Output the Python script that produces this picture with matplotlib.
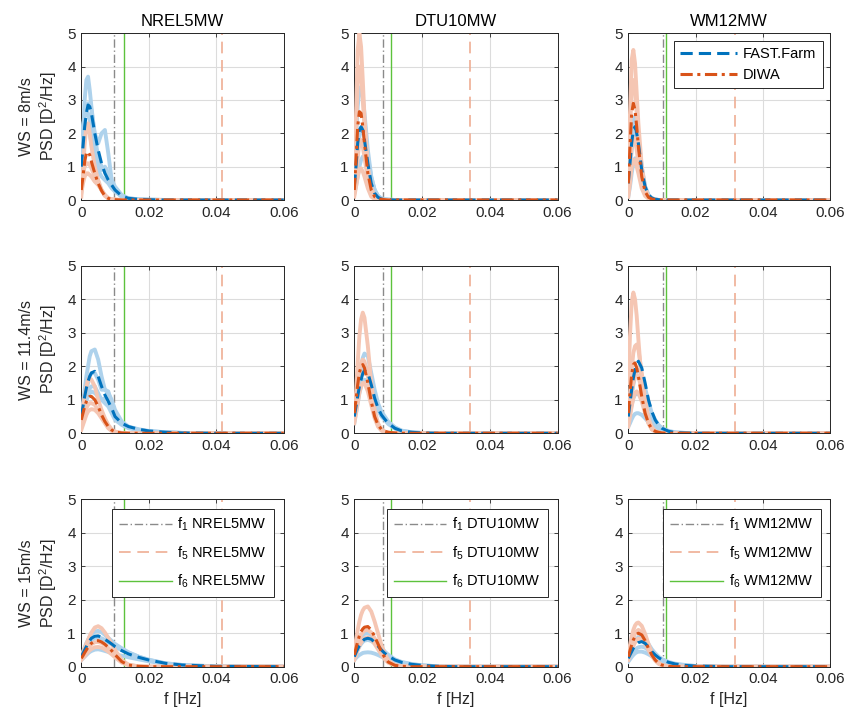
import matplotlib
matplotlib.use("Agg")
import matplotlib.pyplot as plt
from matplotlib.lines import Line2D

plt.rcParams['font.family'] = ['Liberation Sans', 'DejaVu Sans']
plt.rcParams['font.size'] = 10
plt.rcParams['mathtext.fontset'] = 'custom'
plt.rcParams['mathtext.rm'] = 'Liberation Sans'
plt.rcParams['mathtext.it'] = 'Liberation Sans:italic'

# ---------------- data ----------------
turbines = ['NREL5MW', 'DTU10MW', 'WM12MW']
wind_speeds = ['8m/s', '11.4m/s', '15m/s']
xticks = [0, 0.02, 0.04, 0.06]
xticklabels = ['0', '0.02', '0.04', '0.06']
yticks = [0, 1, 2, 3, 4, 5]

f1_vals = [0.0096, 0.0086, 0.0102]
f5_vals = [0.0416, 0.0341, 0.0318]
f6_vals = [0.0126, 0.0107, 0.0113]

freq = [0, 0.0005, 0.001, 0.0015, 0.002, 0.0025, 0.003, 0.004, 0.005, 0.006, 0.007,
        0.008, 0.009, 0.010, 0.012, 0.014, 0.017, 0.020, 0.025, 0.030, 0.040, 0.060]

# ---- WS = 8 m/s ----
nrel_8_ff_mean = [1.0, 1.6, 2.2, 2.6, 2.85, 2.8, 2.6, 2.0, 1.5, 1.1, 0.8, 0.6, 0.45, 0.3, 0.12, 0.05, 0.02, 0.01, 0, 0, 0, 0]
nrel_8_ff_runs = [
    [0.8, 1.8, 3.0, 3.6, 3.7, 3.3, 2.8, 1.9, 1.3, 1.0, 0.9, 0.7, 0.5, 0.3, 0.1, 0.04, 0.02, 0.01, 0, 0, 0, 0],
    [1.6, 2.2, 2.6, 2.8, 2.9, 2.9, 2.7, 2.0, 1.7, 2.0, 2.1, 1.4, 0.6, 0.3, 0.1, 0.05, 0.02, 0.01, 0, 0, 0, 0],
    [1.9, 2.2, 2.5, 2.6, 2.6, 2.4, 2.1, 1.5, 1.0, 0.9, 1.0, 0.8, 0.6, 0.4, 0.15, 0.05, 0.02, 0.01, 0, 0, 0, 0],
    [0.5, 1.2, 1.9, 2.2, 2.2, 2.0, 1.7, 1.2, 0.9, 0.7, 0.6, 0.5, 0.35, 0.25, 0.1, 0.04, 0.01, 0, 0, 0, 0, 0],
]
nrel_8_diwa_mean = [0.3, 0.7, 1.15, 1.4, 1.45, 1.35, 1.15, 0.8, 0.5, 0.28, 0.12, 0.05, 0.02, 0.01, 0, 0, 0, 0, 0, 0, 0, 0]
nrel_8_diwa_runs = [
    [0.1, 0.8, 1.7, 2.2, 2.3, 2.0, 1.6, 1.0, 0.6, 0.3, 0.12, 0.05, 0.02, 0.01, 0, 0, 0, 0, 0, 0, 0, 0],
    [0.5, 0.8, 1.0, 1.1, 1.1, 1.05, 0.95, 0.7, 0.5, 0.3, 0.15, 0.05, 0.02, 0.01, 0, 0, 0, 0, 0, 0, 0, 0],
    [0.2, 0.5, 0.7, 0.8, 0.8, 0.75, 0.7, 0.55, 0.45, 0.3, 0.15, 0.05, 0.02, 0.01, 0, 0, 0, 0, 0, 0, 0, 0],
]

dtu_8_ff_mean = [0.4, 1.0, 1.7, 2.1, 2.2, 2.1, 1.8, 1.1, 0.5, 0.2, 0.08, 0.03, 0.01, 0.01, 0, 0, 0, 0, 0, 0, 0, 0]
dtu_8_ff_runs = [
    [0.8, 1.8, 2.8, 3.3, 3.4, 3.1, 2.6, 1.5, 0.7, 0.3, 0.1, 0.04, 0.02, 0.01, 0, 0, 0, 0, 0, 0, 0, 0],
    [0.3, 0.8, 1.4, 1.9, 2.1, 2.1, 1.9, 1.3, 0.7, 0.3, 0.12, 0.05, 0.02, 0.01, 0, 0, 0, 0, 0, 0, 0, 0],
    [0.2, 0.4, 0.7, 1.0, 1.2, 1.3, 1.3, 1.0, 0.6, 0.3, 0.12, 0.05, 0.02, 0.01, 0, 0, 0, 0, 0, 0, 0, 0],
]
dtu_8_diwa_mean = [0.3, 1.2, 2.2, 2.65, 2.6, 2.2, 1.7, 0.8, 0.3, 0.1, 0.04, 0.02, 0.01, 0, 0, 0, 0, 0, 0, 0, 0, 0]
dtu_8_diwa_runs = [
    [0.5, 2.5, 4.5, 5.0, 4.6, 3.6, 2.5, 1.0, 0.35, 0.1, 0.04, 0.02, 0, 0, 0, 0, 0, 0, 0, 0, 0, 0],
    [0.5, 2.0, 3.5, 4.0, 3.8, 3.0, 2.2, 0.9, 0.3, 0.1, 0.04, 0.02, 0, 0, 0, 0, 0, 0, 0, 0, 0, 0],
    [0.2, 0.7, 1.3, 1.7, 1.8, 1.6, 1.3, 0.6, 0.2, 0.06, 0.02, 0.01, 0, 0, 0, 0, 0, 0, 0, 0, 0, 0],
    [0.1, 0.4, 0.7, 0.9, 0.95, 0.85, 0.7, 0.35, 0.1, 0.03, 0.01, 0, 0, 0, 0, 0, 0, 0, 0, 0, 0, 0],
]

wm_8_ff_mean = [0.5, 1.1, 1.7, 2.1, 2.2, 2.0, 1.7, 0.9, 0.4, 0.15, 0.06, 0.02, 0.01, 0, 0, 0, 0, 0, 0, 0, 0, 0]
wm_8_ff_runs = [
    [0.6, 1.3, 2.0, 2.4, 2.5, 2.3, 1.9, 1.0, 0.4, 0.15, 0.05, 0.02, 0, 0, 0, 0, 0, 0, 0, 0, 0, 0],
    [0.3, 0.9, 1.5, 1.9, 2.0, 1.9, 1.6, 0.9, 0.4, 0.15, 0.05, 0.02, 0, 0, 0, 0, 0, 0, 0, 0, 0, 0],
    [0.1, 0.4, 0.8, 1.1, 1.25, 1.2, 1.0, 0.6, 0.3, 0.12, 0.05, 0.02, 0, 0, 0, 0, 0, 0, 0, 0, 0, 0],
]
wm_8_diwa_mean = [0.5, 1.6, 2.6, 2.9, 2.7, 2.2, 1.6, 0.7, 0.25, 0.08, 0.03, 0.01, 0, 0, 0, 0, 0, 0, 0, 0, 0, 0]
wm_8_diwa_runs = [
    [0.8, 2.6, 4.2, 4.5, 4.1, 3.2, 2.3, 1.0, 0.35, 0.1, 0.03, 0.01, 0, 0, 0, 0, 0, 0, 0, 0, 0, 0],
    [0.6, 2.0, 3.3, 3.6, 3.3, 2.6, 1.8, 0.8, 0.3, 0.1, 0.03, 0.01, 0, 0, 0, 0, 0, 0, 0, 0, 0, 0],
    [0.3, 1.0, 1.6, 1.9, 1.8, 1.5, 1.1, 0.5, 0.2, 0.06, 0.02, 0, 0, 0, 0, 0, 0, 0, 0, 0, 0, 0],
    [0.1, 0.5, 1.0, 1.2, 1.2, 1.0, 0.8, 0.35, 0.12, 0.04, 0.01, 0, 0, 0, 0, 0, 0, 0, 0, 0, 0, 0],
]

# ---- WS = 11.4 m/s ----
nrel_11_ff_mean = [0.5, 0.8, 1.1, 1.35, 1.55, 1.7, 1.8, 1.85, 1.7, 1.4, 1.15, 0.95, 0.75, 0.5, 0.3, 0.2, 0.12, 0.07, 0.03, 0.01, 0, 0]
nrel_11_ff_runs = [
    [0.6, 0.9, 1.3, 1.7, 2.0, 2.3, 2.45, 2.5, 2.2, 1.7, 1.3, 1.2, 1.0, 0.7, 0.35, 0.2, 0.12, 0.07, 0.03, 0.01, 0, 0],
    [0.3, 0.6, 1.0, 1.3, 1.5, 1.7, 1.8, 1.8, 1.6, 1.3, 1.3, 1.25, 0.9, 0.6, 0.3, 0.18, 0.1, 0.06, 0.03, 0.01, 0, 0],
    [0.2, 0.4, 0.7, 1.0, 1.2, 1.35, 1.4, 1.4, 1.2, 1.0, 0.9, 0.8, 0.6, 0.4, 0.25, 0.15, 0.1, 0.05, 0.02, 0.01, 0, 0],
    [0.4, 0.6, 0.8, 1.0, 1.1, 1.2, 1.25, 1.2, 1.1, 1.0, 1.05, 1.0, 0.8, 0.5, 0.28, 0.17, 0.1, 0.06, 0.03, 0.01, 0, 0],
]
nrel_11_diwa_mean = [0.4, 0.6, 0.8, 0.95, 1.05, 1.1, 1.1, 1.0, 0.8, 0.55, 0.35, 0.2, 0.1, 0.04, 0.01, 0, 0, 0, 0, 0, 0, 0]
nrel_11_diwa_runs = [
    [0.5, 0.8, 1.1, 1.4, 1.6, 1.65, 1.6, 1.4, 1.0, 0.7, 0.45, 0.25, 0.12, 0.05, 0.01, 0, 0, 0, 0, 0, 0, 0],
    [0.2, 0.4, 0.6, 0.75, 0.85, 0.9, 0.9, 0.85, 0.7, 0.5, 0.32, 0.18, 0.08, 0.03, 0.01, 0, 0, 0, 0, 0, 0, 0],
    [0.1, 0.25, 0.4, 0.55, 0.65, 0.7, 0.72, 0.7, 0.6, 0.45, 0.3, 0.15, 0.07, 0.03, 0, 0, 0, 0, 0, 0, 0, 0],
]

dtu_11_ff_mean = [0.5, 0.8, 1.1, 1.4, 1.6, 1.78, 1.87, 1.8, 1.45, 1.05, 0.75, 0.55, 0.42, 0.3, 0.15, 0.07, 0.03, 0.01, 0, 0, 0, 0]
dtu_11_ff_runs = [
    [0.5, 0.9, 1.3, 1.7, 2.0, 2.25, 2.38, 2.3, 1.8, 1.3, 0.9, 0.65, 0.5, 0.35, 0.18, 0.08, 0.03, 0.01, 0, 0, 0, 0],
    [0.4, 0.8, 1.2, 1.5, 1.75, 1.9, 2.0, 1.95, 1.6, 1.15, 0.8, 0.6, 0.45, 0.32, 0.16, 0.07, 0.03, 0.01, 0, 0, 0, 0],
    [0.3, 0.6, 0.9, 1.2, 1.4, 1.55, 1.6, 1.55, 1.25, 0.95, 0.7, 0.5, 0.4, 0.28, 0.14, 0.06, 0.02, 0.01, 0, 0, 0, 0],
]
dtu_11_diwa_mean = [0.6, 1.0, 1.45, 1.8, 2.0, 2.05, 1.95, 1.5, 0.95, 0.5, 0.25, 0.12, 0.06, 0.03, 0.01, 0, 0, 0, 0, 0, 0, 0]
dtu_11_diwa_runs = [
    [0.5, 1.2, 2.1, 2.9, 3.4, 3.6, 3.45, 2.6, 1.5, 0.7, 0.3, 0.12, 0.05, 0.02, 0, 0, 0, 0, 0, 0, 0, 0],
    [0.5, 0.9, 1.4, 1.8, 2.1, 2.2, 2.15, 1.7, 1.1, 0.55, 0.25, 0.1, 0.05, 0.02, 0, 0, 0, 0, 0, 0, 0, 0],
    [0.3, 0.6, 0.9, 1.2, 1.4, 1.5, 1.5, 1.25, 0.85, 0.45, 0.2, 0.08, 0.03, 0.01, 0, 0, 0, 0, 0, 0, 0, 0],
]

wm_11_ff_mean = [0.5, 0.9, 1.3, 1.65, 1.9, 2.08, 2.15, 1.95, 1.5, 1.0, 0.65, 0.4, 0.25, 0.15, 0.06, 0.02, 0.01, 0, 0, 0, 0, 0]
wm_11_ff_runs = [
    [0.4, 0.8, 1.15, 1.45, 1.7, 1.85, 1.9, 1.75, 1.35, 0.95, 0.6, 0.4, 0.25, 0.16, 0.07, 0.03, 0.01, 0, 0, 0, 0, 0],
    [0.3, 0.6, 0.85, 1.05, 1.15, 1.2, 1.18, 1.05, 0.8, 0.55, 0.38, 0.25, 0.17, 0.12, 0.06, 0.02, 0.01, 0, 0, 0, 0, 0],
    [0.2, 0.3, 0.42, 0.52, 0.58, 0.6, 0.6, 0.55, 0.45, 0.33, 0.22, 0.15, 0.1, 0.07, 0.03, 0.01, 0, 0, 0, 0, 0, 0],
]
wm_11_diwa_mean = [0.6, 1.2, 1.75, 2.05, 2.1, 1.95, 1.7, 1.1, 0.6, 0.3, 0.13, 0.06, 0.03, 0.01, 0, 0, 0, 0, 0, 0, 0, 0]
wm_11_diwa_runs = [
    [1.5, 2.9, 3.9, 4.2, 4.0, 3.5, 2.8, 1.5, 0.7, 0.3, 0.12, 0.05, 0.02, 0, 0, 0, 0, 0, 0, 0, 0, 0],
    [0.5, 1.2, 1.9, 2.4, 2.6, 2.65, 2.5, 1.8, 1.0, 0.45, 0.18, 0.07, 0.03, 0, 0, 0, 0, 0, 0, 0, 0, 0],
    [0.4, 0.8, 1.2, 1.5, 1.7, 1.75, 1.7, 1.3, 0.8, 0.4, 0.15, 0.06, 0.02, 0, 0, 0, 0, 0, 0, 0, 0, 0],
    [0.2, 0.5, 0.8, 1.05, 1.2, 1.25, 1.2, 0.95, 0.6, 0.3, 0.12, 0.05, 0.02, 0, 0, 0, 0, 0, 0, 0, 0, 0],
]

# ---- WS = 15 m/s ----
nrel_15_ff_mean = [0.3, 0.4, 0.5, 0.6, 0.7, 0.78, 0.85, 0.91, 0.92, 0.88, 0.82, 0.75, 0.68, 0.6, 0.48, 0.38, 0.28, 0.2, 0.1, 0.05, 0.01, 0]
nrel_15_ff_runs = [
    [0.35, 0.45, 0.58, 0.7, 0.8, 0.9, 0.97, 1.05, 1.07, 1.03, 0.95, 0.86, 0.77, 0.68, 0.55, 0.43, 0.3, 0.21, 0.1, 0.05, 0.01, 0],
    [0.25, 0.35, 0.45, 0.55, 0.64, 0.72, 0.79, 0.86, 0.88, 0.85, 0.8, 0.73, 0.66, 0.58, 0.5, 0.42, 0.3, 0.2, 0.1, 0.05, 0.01, 0],
    [0.2, 0.25, 0.3, 0.35, 0.4, 0.44, 0.47, 0.51, 0.52, 0.5, 0.47, 0.44, 0.4, 0.36, 0.33, 0.28, 0.22, 0.16, 0.09, 0.04, 0.01, 0],
]
nrel_15_diwa_mean = [0.25, 0.33, 0.42, 0.5, 0.58, 0.65, 0.7, 0.77, 0.78, 0.74, 0.67, 0.58, 0.48, 0.36, 0.15, 0.05, 0.01, 0, 0, 0, 0, 0]
nrel_15_diwa_runs = [
    [0.3, 0.42, 0.55, 0.68, 0.8, 0.92, 1.02, 1.17, 1.21, 1.15, 1.02, 0.86, 0.68, 0.5, 0.2, 0.06, 0.01, 0, 0, 0, 0, 0],
    [0.25, 0.33, 0.41, 0.49, 0.56, 0.62, 0.67, 0.73, 0.74, 0.71, 0.65, 0.56, 0.46, 0.35, 0.15, 0.05, 0.01, 0, 0, 0, 0, 0],
    [0.2, 0.26, 0.32, 0.38, 0.44, 0.49, 0.53, 0.58, 0.59, 0.57, 0.52, 0.45, 0.37, 0.28, 0.12, 0.04, 0.01, 0, 0, 0, 0, 0],
]

dtu_15_ff_mean = [0.3, 0.42, 0.53, 0.63, 0.71, 0.77, 0.82, 0.85, 0.82, 0.73, 0.62, 0.5, 0.4, 0.32, 0.2, 0.13, 0.07, 0.04, 0.01, 0, 0, 0]
dtu_15_ff_runs = [
    [0.35, 0.5, 0.65, 0.77, 0.87, 0.94, 0.98, 1.0, 0.95, 0.83, 0.7, 0.57, 0.45, 0.36, 0.22, 0.14, 0.08, 0.04, 0.01, 0, 0, 0],
    [0.25, 0.38, 0.5, 0.6, 0.68, 0.74, 0.78, 0.8, 0.77, 0.7, 0.6, 0.5, 0.4, 0.32, 0.2, 0.13, 0.07, 0.04, 0.01, 0, 0, 0],
    [0.2, 0.26, 0.31, 0.35, 0.38, 0.41, 0.42, 0.43, 0.42, 0.39, 0.35, 0.3, 0.26, 0.22, 0.15, 0.1, 0.06, 0.03, 0.01, 0, 0, 0],
]
dtu_15_diwa_mean = [0.35, 0.55, 0.75, 0.92, 1.05, 1.13, 1.18, 1.2, 1.1, 0.9, 0.68, 0.45, 0.27, 0.14, 0.04, 0.01, 0, 0, 0, 0, 0, 0]
dtu_15_diwa_runs = [
    [0.5, 0.8, 1.1, 1.35, 1.55, 1.68, 1.76, 1.8, 1.65, 1.35, 1.0, 0.65, 0.38, 0.2, 0.05, 0.01, 0, 0, 0, 0, 0, 0],
    [0.3, 0.5, 0.68, 0.82, 0.95, 1.03, 1.08, 1.1, 1.02, 0.85, 0.65, 0.45, 0.28, 0.15, 0.04, 0.01, 0, 0, 0, 0, 0, 0],
    [0.2, 0.35, 0.5, 0.62, 0.72, 0.8, 0.85, 0.88, 0.82, 0.68, 0.52, 0.36, 0.22, 0.12, 0.03, 0.01, 0, 0, 0, 0, 0, 0],
]

wm_15_ff_mean = [0.25, 0.35, 0.45, 0.55, 0.62, 0.68, 0.72, 0.75, 0.7, 0.58, 0.45, 0.35, 0.27, 0.21, 0.13, 0.08, 0.04, 0.02, 0.01, 0, 0, 0]
wm_15_ff_runs = [
    [0.35, 0.48, 0.6, 0.7, 0.78, 0.84, 0.88, 0.9, 0.83, 0.68, 0.52, 0.4, 0.3, 0.23, 0.14, 0.09, 0.05, 0.02, 0.01, 0, 0, 0],
    [0.2, 0.28, 0.36, 0.44, 0.5, 0.55, 0.58, 0.6, 0.57, 0.49, 0.4, 0.32, 0.25, 0.19, 0.12, 0.07, 0.04, 0.02, 0.01, 0, 0, 0],
    [0.15, 0.22, 0.29, 0.35, 0.4, 0.43, 0.45, 0.45, 0.42, 0.37, 0.31, 0.25, 0.2, 0.16, 0.1, 0.06, 0.03, 0.02, 0, 0, 0, 0],
]
wm_15_diwa_mean = [0.3, 0.48, 0.65, 0.8, 0.9, 0.97, 1.0, 0.95, 0.78, 0.55, 0.35, 0.2, 0.1, 0.05, 0.01, 0, 0, 0, 0, 0, 0, 0]
wm_15_diwa_runs = [
    [0.4, 0.65, 0.9, 1.1, 1.23, 1.3, 1.32, 1.22, 0.98, 0.68, 0.42, 0.24, 0.12, 0.05, 0.01, 0, 0, 0, 0, 0, 0, 0],
    [0.3, 0.5, 0.7, 0.86, 0.98, 1.06, 1.1, 1.03, 0.84, 0.6, 0.38, 0.21, 0.1, 0.04, 0.01, 0, 0, 0, 0, 0, 0, 0],
    [0.2, 0.35, 0.5, 0.62, 0.72, 0.8, 0.84, 0.82, 0.68, 0.5, 0.32, 0.18, 0.09, 0.04, 0.01, 0, 0, 0, 0, 0, 0, 0],
]

panels = [
    [(nrel_8_ff_mean, nrel_8_ff_runs, nrel_8_diwa_mean, nrel_8_diwa_runs),
     (dtu_8_ff_mean, dtu_8_ff_runs, dtu_8_diwa_mean, dtu_8_diwa_runs),
     (wm_8_ff_mean, wm_8_ff_runs, wm_8_diwa_mean, wm_8_diwa_runs)],
    [(nrel_11_ff_mean, nrel_11_ff_runs, nrel_11_diwa_mean, nrel_11_diwa_runs),
     (dtu_11_ff_mean, dtu_11_ff_runs, dtu_11_diwa_mean, dtu_11_diwa_runs),
     (wm_11_ff_mean, wm_11_ff_runs, wm_11_diwa_mean, wm_11_diwa_runs)],
    [(nrel_15_ff_mean, nrel_15_ff_runs, nrel_15_diwa_mean, nrel_15_diwa_runs),
     (dtu_15_ff_mean, dtu_15_ff_runs, dtu_15_diwa_mean, dtu_15_diwa_runs),
     (wm_15_ff_mean, wm_15_ff_runs, wm_15_diwa_mean, wm_15_diwa_runs)],
]

# ---------------- style ----------------
BLUE = '#0072BD'
ORANGE = '#D95319'
LIGHT_BLUE = '#aed2ec'
LIGHT_SALMON = '#f5c6b3'
GRAY = '#8a8a8a'
F5_COL = '#efae94'
GREEN = '#5cc23c'
AXC = '#262626'

fig = plt.figure(figsize=(8.47, 7.22), dpi=100)
W, H = 847, 722
col_x = [(81.3, 283.7), (354.3, 557.6), (628.3, 830.0)]
row_y = [(33.3, 200.0), (265.7, 433.3), (499.3, 666.7)]

for r in range(3):
    for c in range(3):
        x0, x1 = col_x[c]
        yt, yb = row_y[r]
        ax = fig.add_axes([x0 / W, 1 - yb / H, (x1 - x0) / W, (yb - yt) / H])
        ff_mean, ff_runs, diwa_mean, diwa_runs = panels[r][c]

        ax.axvline(f1_vals[c], color=GRAY, lw=1.0, dashes=(6, 2, 1, 2), zorder=2)
        ax.axvline(f5_vals[c], color=F5_COL, lw=1.2, dashes=(7, 4), zorder=2)
        ax.axvline(f6_vals[c], color=GREEN, lw=1.0, zorder=2)

        for run in ff_runs:
            ax.plot(freq, run, color=LIGHT_BLUE, lw=2.8, solid_joinstyle='round', zorder=3)
        for run in diwa_runs:
            ax.plot(freq, run, color=LIGHT_SALMON, lw=2.8, solid_joinstyle='round', zorder=3)
        h_ff, = ax.plot(freq, ff_mean, color=BLUE, lw=2.2, dashes=(4, 2), zorder=4)
        h_dw, = ax.plot(freq, diwa_mean, color=ORANGE, lw=2.2, dashes=(4, 1.5, 1, 1.5), zorder=5)

        ax.set_xlim(0, 0.06)
        ax.set_ylim(0, 5)
        ax.set_xticks(xticks)
        ax.set_xticklabels(xticklabels)
        ax.set_yticks(yticks)
        ax.grid(True, color='#dcdcdc', lw=0.8)
        ax.set_axisbelow(True)
        ax.tick_params(direction='in', top=True, right=True, length=3, width=0.6,
                       colors=AXC, labelsize=11, pad=4)
        for s in ax.spines.values():
            s.set_color(AXC)
            s.set_linewidth(0.7)

        if r == 0:
            ax.set_title(turbines[c], fontsize=12, color='black', pad=5)
        if c == 0:
            ax.set_ylabel('WS = ' + wind_speeds[r] + '\nPSD [D$^2$/Hz]', fontsize=11.5,
                          color=AXC, labelpad=6)
        if r == 2:
            ax.set_xlabel('f [Hz]', fontsize=11.5, color=AXC, labelpad=4)

        if r == 0 and c == 2:
            leg = ax.legend([h_ff, h_dw], ['FAST.Farm', 'DIWA'], loc='upper right',
                            fontsize=10.5, handlelength=3.9, fancybox=False, framealpha=1,
                            edgecolor=AXC, borderaxespad=0.5, labelspacing=0.45,
                            borderpad=0.45, handletextpad=0.4)
            leg.get_frame().set_linewidth(0.7)
        if r == 2:
            labels = ['f$_1$ ' + turbines[c], 'f$_5$ ' + turbines[c], 'f$_6$ ' + turbines[c]]
            hf1 = Line2D([], [], color=GRAY, lw=1.0, dashes=(6, 2, 1, 2))
            hf5 = Line2D([], [], color=F5_COL, lw=1.2, dashes=(7, 4))
            hf6 = Line2D([], [], color=GREEN, lw=1.0)
            leg = ax.legend([hf1, hf5, hf6], labels, loc='upper right',
                            fontsize=10.5, handlelength=3.6, fancybox=False, framealpha=1,
                            edgecolor=AXC, borderaxespad=0.65, labelspacing=0.75,
                            borderpad=0.5, handletextpad=0.4)
            leg.get_frame().set_linewidth(0.7)

fig.savefig('out.png', dpi=100)
